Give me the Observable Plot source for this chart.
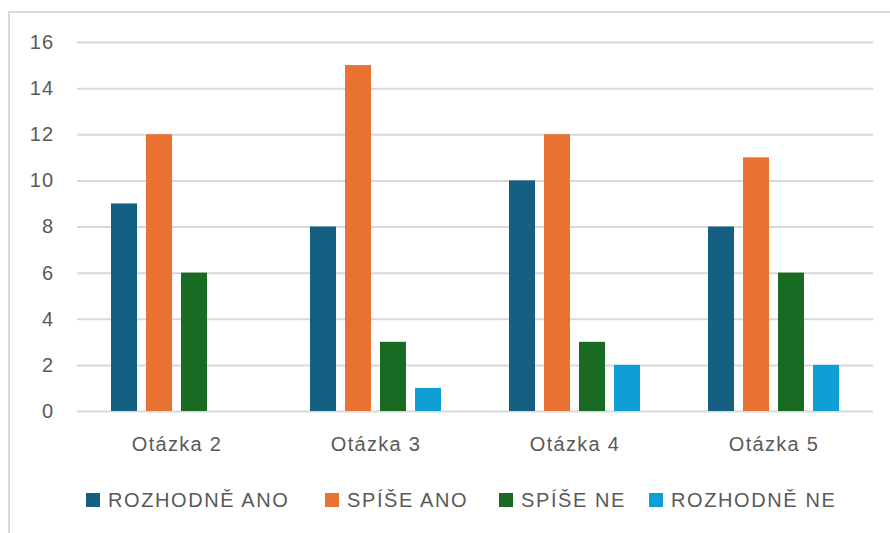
<!DOCTYPE html>
<html>
<head>
<meta charset="utf-8">
<script src="https://cdn.jsdelivr.net/npm/d3@7"></script>
<script src="https://cdn.jsdelivr.net/npm/@observablehq/plot@0.6"></script>
<style>
  html, body { margin: 0; padding: 0; background: #fff; }
  #chart { position: relative; width: 890px; height: 533px; overflow: hidden; background: #fff;
           font-family: "Liberation Sans", Arial, sans-serif; color: #595959; }
  #frame { position: absolute; left: 8px; top: 11px; width: 900px; height: 540px;
           border-left: 2px solid #d9d9d9; border-top: 2px solid #d9d9d9; box-sizing: border-box; }
  #plot { position: absolute; left: 0; top: 0; }
  #legend { position: absolute; left: 0; top: 488px; width: 890px; height: 24px;
            font-size: 20px; letter-spacing: 1.6px; white-space: nowrap; }
  .item { position: absolute; top: 0; display: flex; align-items: center; height: 24px; }
  .swatch { width: 14px; height: 14px; margin-right: 8px; }
</style>
</head>
<body>
<div id="chart">
  <div id="frame"></div>
  <div id="plot"></div>
  <div id="legend"></div>
</div>
<script>
// Survey answers per question
const questions = ["Otázka 2", "Otázka 3", "Otázka 4", "Otázka 5"];
const series = ["ROZHODNĚ ANO", "SPÍŠE ANO", "SPÍŠE NE", "ROZHODNĚ NE"];
const rozhodneAno = [9, 8, 10, 8];
const spiseAno = [12, 15, 12, 11];
const spiseNe = [6, 3, 3, 6];
const rozhodneNe = [0, 1, 2, 2];
const seriesColors = ["#156082", "#E97132", "#196B24", "#0F9ED5"];
const yTicks = [0, 2, 4, 6, 8, 10, 12, 14, 16];

const values = [rozhodneAno, spiseAno, spiseNe, rozhodneNe];
const data = questions.flatMap((q, i) =>
  series.map((s, j) => ({question: q, series: s, value: values[j][i]}))
);

const chart = Plot.plot({
  width: 890,
  height: 470,
  marginLeft: 77,
  marginRight: 17,
  marginTop: 42,
  marginBottom: 59,
  style: {fontFamily: "'Liberation Sans', Arial, sans-serif", color: "#595959", background: "transparent", letterSpacing: "1.3px"},
  fx: {domain: questions, padding: 0, label: null},
  x: {domain: series, paddingInner: 0.25, paddingOuter: 0.89, axis: null},
  y: {domain: [0, 16], axis: null},
  color: {domain: series, range: seriesColors},
  marks: [
    Plot.ruleY(yTicks, {stroke: "#d9d9d9", strokeWidth: 2}),
    Plot.barY(data, {fx: "question", x: "series", y: "value", fill: "series"}),
    Plot.axisY(yTicks, {tickSize: 0, tickPadding: 23, fontSize: 20, label: null}),
    Plot.axisFx({anchor: "bottom", tickSize: 0, tickPadding: 25, fontSize: 20, label: null})
  ]
});
document.getElementById("plot").appendChild(chart);

// Legend built from the same series and colours, one slot per entry
const legendSlots = [86, 325, 499, 649];
const legend = document.getElementById("legend");
series.forEach((s, j) => {
  const item = document.createElement("div");
  item.className = "item";
  item.style.left = legendSlots[j] + "px";
  const sw = document.createElement("span");
  sw.className = "swatch";
  sw.style.background = seriesColors[j];
  const label = document.createElement("span");
  label.textContent = s;
  item.append(sw, label);
  legend.appendChild(item);
});
</script>
</body>
</html>
